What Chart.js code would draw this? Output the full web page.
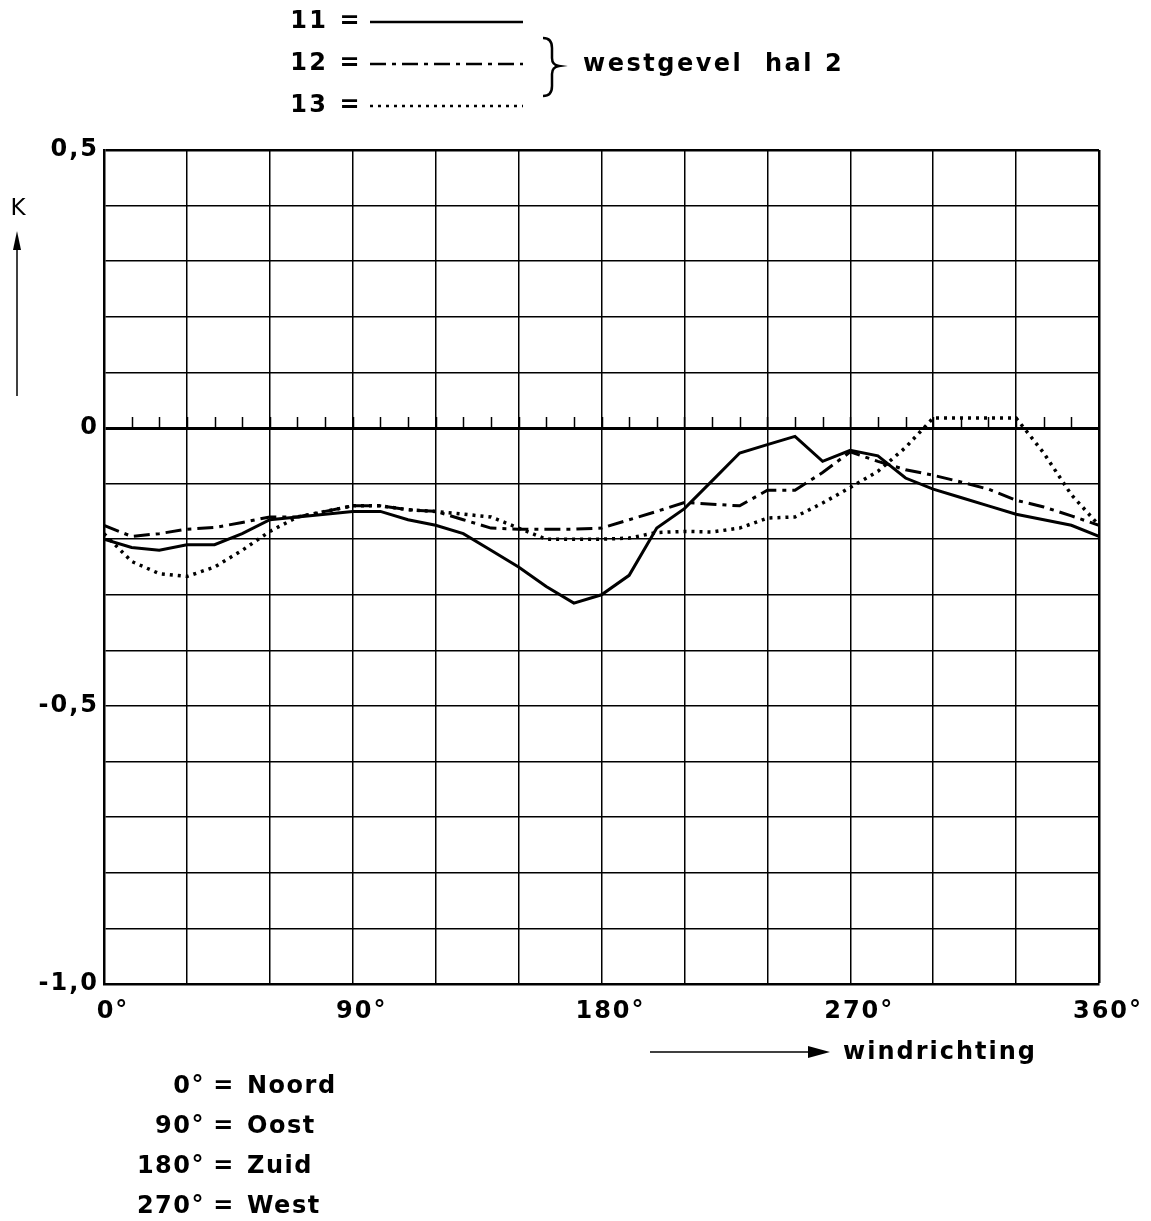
<!DOCTYPE html>
<html>
<head>
<meta charset="utf-8">
<style>
  html, body { margin: 0; padding: 0; background: #fff; }
  canvas { display: block; }
</style>
<script src="https://cdn.jsdelivr.net/npm/chart.js@4/dist/chart.umd.min.js"></script>
</head>
<body>
<canvas id="kChart" width="1151" height="1221"></canvas>
<script>
// wind direction (degrees), one reading every 10 degrees
var angles = [0, 10, 20, 30, 40, 50, 60, 70, 80, 90, 100, 110, 120, 130, 140, 150, 160, 170, 180,
  190, 200, 210, 220, 230, 240, 250, 260, 270, 280, 290, 300, 310, 320, 330, 340, 350, 360];

// K values, westgevel hal 2
var meet11 = [-0.20, -0.215, -0.22, -0.21, -0.21, -0.19, -0.165, -0.16, -0.155, -0.15, -0.15, -0.165, -0.175,
  -0.19, -0.22, -0.25, -0.285, -0.315, -0.30, -0.265, -0.18, -0.145, -0.095, -0.045, -0.03, -0.015, -0.06,
  -0.04, -0.05, -0.09, -0.11, -0.125, -0.14, -0.155, -0.165, -0.175, -0.195];
var meet12 = [-0.175, -0.195, -0.19, -0.182, -0.179, -0.17, -0.16, -0.16, -0.15, -0.14, -0.14, -0.147, -0.15,
  -0.165, -0.18, -0.182, -0.182, -0.182, -0.18, -0.165, -0.15, -0.134, -0.137, -0.14, -0.112, -0.112, -0.08,
  -0.043, -0.06, -0.075, -0.085, -0.097, -0.11, -0.13, -0.142, -0.158, -0.175];
var meet13 = [-0.19, -0.24, -0.262, -0.267, -0.25, -0.22, -0.186, -0.16, -0.15, -0.14, -0.14, -0.147, -0.15,
  -0.155, -0.16, -0.18, -0.20, -0.20, -0.20, -0.198, -0.188, -0.186, -0.187, -0.18, -0.162, -0.16, -0.135,
  -0.107, -0.078, -0.035, 0.018, 0.018, 0.018, 0.018, -0.045, -0.12, -0.175];

var seriesNames = ['11', '12', '13'];
var yTickLabels = { '5': '0,5', '0': '0', '-5': '-0,5', '-10': '-1,0' };
var xTickLabels = { 0: '0°', 90: '90°', 180: '180°', 270: '270°', 360: '360°' };
var richtingen = [['0°', 'Noord'], ['90°', 'Oost'], ['180°', 'Zuid'], ['270°', 'West']];

var FONT = '"DejaVu Sans", sans-serif';

function toPoints(vals) {
  return vals.map(function (v, i) { return { x: angles[i], y: v }; });
}

// slightly open lettering like the stencil font of the original
var spacing = {
  id: 'spacing',
  beforeDraw: function (chart) { chart.ctx.letterSpacing = '2px'; }
};

// extra drawing: ticks on the zero line, legend, axis arrows, direction key
var annotations = {
  id: 'annotations',
  afterDraw: function (chart) {
    var ctx = chart.ctx;
    var xs = chart.scales.x, ys = chart.scales.y;
    var y0 = ys.getPixelForValue(0);
    ctx.save();
    ctx.strokeStyle = '#000';
    ctx.fillStyle = '#000';

    // small ticks above the zero line
    ctx.lineWidth = 1.5;
    for (var a = 10; a < 360; a += 10) {
      var px = Math.round(xs.getPixelForValue(a)) + 0.5;
      ctx.beginPath();
      ctx.moveTo(px, y0);
      ctx.lineTo(px, y0 - 11);
      ctx.stroke();
    }

    // legend at the top
    ctx.letterSpacing = '2.5px';
    ctx.font = 'bold 24px ' + FONT;
    ctx.textBaseline = 'middle';
    var legendY = [22, 64, 106];
    chart.data.datasets.forEach(function (ds, i) {
      ctx.textAlign = 'right';
      ctx.fillText(seriesNames[i] + ' =', 362, legendY[i]);
      ctx.setLineDash(ds.borderDash || []);
      ctx.lineWidth = 2.5;
      ctx.beginPath();
      ctx.moveTo(370, legendY[i]);
      ctx.lineTo(523, legendY[i]);
      ctx.stroke();
    });
    ctx.setLineDash([]);

    // brace
    ctx.lineWidth = 2.5;
    ctx.beginPath();
    ctx.moveTo(543, 38);
    ctx.quadraticCurveTo(552, 38, 552, 48);
    ctx.lineTo(552, 58);
    ctx.quadraticCurveTo(552, 65, 559, 66);
    ctx.quadraticCurveTo(552, 67, 552, 74);
    ctx.lineTo(552, 86);
    ctx.quadraticCurveTo(552, 96, 543, 96);
    ctx.stroke();
    ctx.textAlign = 'left';
    ctx.fillText('westgevel  hal 2', 583, 65);

    // K arrow
    ctx.letterSpacing = '0px';
    ctx.font = '23px ' + FONT;
    ctx.textAlign = 'center';
    ctx.fillText('K', 18, 209);
    ctx.lineWidth = 1.5;
    ctx.beginPath();
    ctx.moveTo(17, 396);
    ctx.lineTo(17, 240);
    ctx.stroke();
    ctx.beginPath();
    ctx.moveTo(17, 231);
    ctx.lineTo(13, 250);
    ctx.lineTo(21, 250);
    ctx.closePath();
    ctx.fill();

    // windrichting arrow
    ctx.beginPath();
    ctx.moveTo(650, 1052);
    ctx.lineTo(812, 1052);
    ctx.stroke();
    ctx.beginPath();
    ctx.moveTo(830, 1052);
    ctx.lineTo(808, 1046);
    ctx.lineTo(808, 1058);
    ctx.closePath();
    ctx.fill();
    ctx.letterSpacing = '2px';
    ctx.font = 'bold 24px ' + FONT;
    ctx.textAlign = 'left';
    ctx.fillText('windrichting', 843, 1053);

    // direction key
    ctx.letterSpacing = '1.5px';
    richtingen.forEach(function (r, i) {
      var ty = 1087 + i * 40;
      ctx.textAlign = 'right';
      ctx.fillText(r[0], 205, ty);
      ctx.textAlign = 'center';
      ctx.fillText('=', 224, ty);
      ctx.textAlign = 'left';
      ctx.fillText(r[1], 247, ty);
    });
    ctx.restore();
  }
};

var ctx = document.getElementById('kChart').getContext('2d');

var config = {
  type: 'line',
  data: {
    datasets: [
      {
        label: seriesNames[0],
        data: toPoints(meet11),
        borderColor: '#000',
        borderWidth: 3
      },
      {
        label: seriesNames[1],
        data: toPoints(meet12),
        borderColor: '#000',
        borderWidth: 3,
        borderDash: [16, 6, 4, 6]
      },
      {
        label: seriesNames[2],
        data: toPoints(meet13),
        borderColor: '#000',
        borderWidth: 3.5,
        borderDash: [3, 5]
      }
    ]
  },
  options: {
    responsive: false,
    animation: false,
    devicePixelRatio: 1,
    layout: { padding: { top: 150, right: 52, bottom: 197, left: 0 } },
    elements: {
      point: { radius: 0 },
      line: { tension: 0, fill: false }
    },
    plugins: {
      legend: { display: false },
      tooltip: { enabled: false }
    },
    scales: {
      x: {
        type: 'linear',
        min: 0,
        max: 360,
        afterFit: function (scale) { scale.height = 40; },
        border: { display: true, color: '#000', width: 2.5 },
        grid: {
          color: '#000',
          drawTicks: false,
          lineWidth: function (c) { return (c.tick && c.tick.value === 360) ? 2.5 : 1.5; }
        },
        ticks: {
          stepSize: 30,
          padding: 13,
          labelOffset: 9,
          maxRotation: 0,
          autoSkip: false,
          color: '#000',
          font: { family: FONT, size: 24, weight: 'bold' },
          callback: function (v) { return xTickLabels[v] !== undefined ? xTickLabels[v] : ''; }
        }
      },
      y: {
        min: -1.0,
        max: 0.5,
        afterFit: function (scale) { scale.width = 104; },
        border: { display: true, color: '#000', width: 2.5 },
        grid: {
          color: '#000',
          drawTicks: false,
          lineWidth: function (c) {
            if (!c.tick) return 1.5;
            var k = Math.round(c.tick.value * 10);
            if (k === 0) return 3;
            if (k === 5) return 2.5;
            return 1.5;
          }
        },
        ticks: {
          stepSize: 0.1,
          padding: 5,
          autoSkip: false,
          color: '#000',
          font: { family: FONT, size: 24, weight: 'bold' },
          callback: function (v) {
            var k = String(Math.round(v * 10));
            return yTickLabels[k] !== undefined ? yTickLabels[k] : '';
          }
        }
      }
    }
  },
  plugins: [spacing, annotations]
};

var kChart = new Chart(ctx, config);
</script>
</body>
</html>
